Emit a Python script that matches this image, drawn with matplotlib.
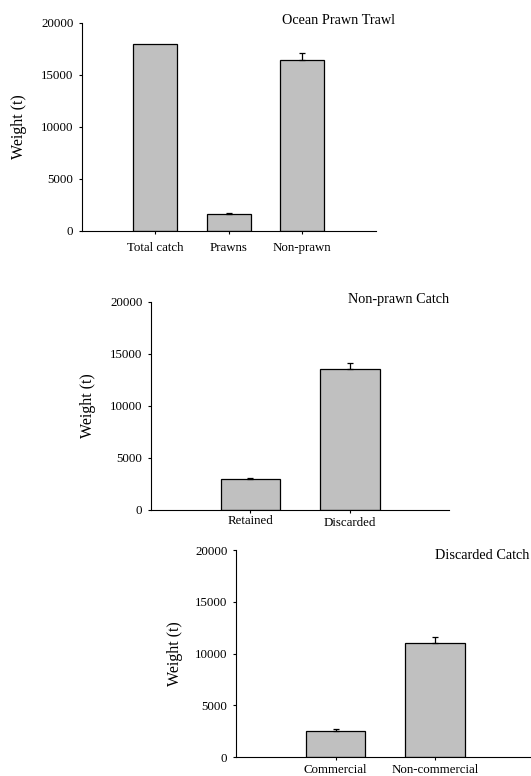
import matplotlib
matplotlib.use("Agg")
import matplotlib.pyplot as plt
from matplotlib.transforms import ScaledTranslation

plt.rcParams["font.family"] = ["Liberation Serif", "DejaVu Serif"]

# Panel 1: Ocean Prawn Trawl (no error bar on total catch)
trawl_labels = ["Total catch", "Prawns", "Non-prawn"]
trawl_values = [18000, 1580, 16450]
trawl_err = [None, 90, 680]

# Panel 2: Non-prawn catch
nonprawn_labels = ["Retained", "Discarded"]
nonprawn_values = [2950, 13500]
nonprawn_err = [150, 580]

# Panel 3: Discarded catch
discard_labels = ["Commercial", "Non-commercial"]
discard_values = [2500, 11000]
discard_err = [230, 580]

fig = plt.figure(figsize=(5.31, 7.76), dpi=100)


def draw_panel(rect, labels, values, errs, title, title_xy, label_x, xpad, shifts):
    ax = fig.add_axes(rect)
    x = list(range(len(labels)))
    ax.bar(x, values, width=0.6, color="#c0c0c0", edgecolor="black", linewidth=0.9)
    # upward-only error bars, skipped where there is none
    ex = [i for i, e in zip(x, errs) if e is not None]
    ey = [values[i] for i in ex]
    ee = [errs[i] for i in ex]
    ax.errorbar(ex, ey, yerr=[[0] * len(ee), ee], fmt="none", ecolor="black",
                elinewidth=0.9, capsize=2.2, capthick=0.9)
    ax.set_xlim(-1, len(labels))
    ax.set_ylim(0, 20000)
    ax.set_yticks([0, 5000, 10000, 15000, 20000])
    ax.set_xticks(x)
    ax.set_xticklabels(labels)
    for side in ["top", "right"]:
        ax.spines[side].set_visible(False)
    for side in ["left", "bottom"]:
        ax.spines[side].set_linewidth(0.8)
    ax.tick_params(axis="y", direction="out", length=2.2, width=0.8, pad=4, labelsize=9.3)
    ax.tick_params(axis="x", direction="out", length=2.2, width=0.8, pad=xpad, labelsize=9.3)
    for lab, dy in zip(ax.get_xticklabels(), shifts):
        lab.set_transform(lab.get_transform() + ScaledTranslation(0, -dy / 100, fig.dpi_scale_trans))
    ax.set_ylabel("Weight (t)", fontsize=11.5, va="center")
    ax.yaxis.set_label_coords(label_x, 0.5)
    ax.text(title_xy[0], title_xy[1], title, transform=ax.transAxes,
            ha="center", va="center", fontsize=10.3)
    return ax


draw_panel([0.1544, 0.7027, 0.5531, 0.2680], trawl_labels, trawl_values, trawl_err,
           "Ocean Prawn Trawl", (0.875, 1.013), -0.2145, 5.8, [0, 0, 0])
draw_panel([0.2844, 0.3428, 0.5618, 0.2684], nonprawn_labels, nonprawn_values, nonprawn_err,
           "Non-prawn Catch", (0.831, 1.013), -0.210, 1.4, [0, 2.4])
draw_panel([0.4444, 0.0241, 0.5624, 0.2671], discard_labels, discard_values, discard_err,
           "Discarded Catch", (0.823, 0.976), -0.204, 2.7, [0, 0])

fig.savefig("out.png", dpi=100)
